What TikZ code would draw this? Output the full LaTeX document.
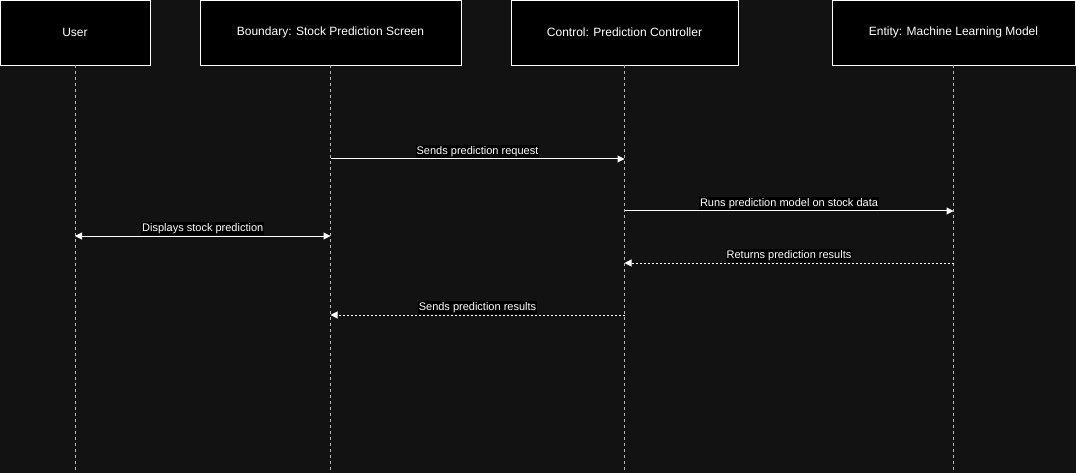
\documentclass[tikz,border=0pt]{standalone}
\usepackage{fontspec}
\setmainfont{Liberation Sans}
\usetikzlibrary{arrows.meta}
\definecolor{bg}{HTML}{121212}
\definecolor{lifeline}{HTML}{B8B8B8}
\tikzset{
  actor/.style={draw=white, fill=black, line width=0.9pt, minimum height=65pt, inner sep=0pt, text=white, font=\fontsize{12}{14}\selectfont},
  life/.style={draw=lifeline, dash pattern=on 3pt off 3pt, line width=0.8pt},
  msg/.style={draw=white, line width=1pt, -{Triangle[length=7pt,width=7pt]}},
  reply/.style={msg, dash pattern=on 2pt off 2pt},
  lbl/.style={fill=black, text=white, inner xsep=1pt, inner ysep=1pt, font=\fontsize{11}{12}\selectfont}
}
\begin{document}
\begin{tikzpicture}[x=1pt,y=-1pt]
\fill[bg] (0,0) rectangle (1076,473);
\useasboundingbox (0,0) rectangle (1076,473);
\node[actor, minimum width=150pt] (user) at (75,32.5) {User};
\node[actor, minimum width=261pt] (bnd) at (330.5,32.5) {Boundary: Stock Prediction Screen};
\node[actor, minimum width=227pt] (ctl) at (624.5,32.5) {Control: Prediction Controller};
\node[actor, minimum width=243pt] (ent) at (953.5,32.5) {Entity: Machine Learning Model};
\coordinate (ue) at (75,473);
\coordinate (be) at (330.5,473);
\coordinate (ce) at (624.5,473);
\coordinate (ee) at (953.5,473);
\draw[life] (user.south) -- (ue);
\draw[life] (bnd.south) -- (be);
\draw[life] (ctl.south) -- (ce);
\draw[life] (ent.south) -- (ee);
% messages
\coordinate (b1) at (330.5,159); \coordinate (c1) at (624.5,159);
\coordinate (c2) at (624.5,211); \coordinate (e2) at (953.5,211);
\coordinate (u3) at (75,236);    \coordinate (b3) at (330.5,236);
\coordinate (e4) at (953.5,263); \coordinate (c4) at (624.5,263);
\coordinate (c5) at (624.5,315); \coordinate (b5) at (330.5,315);
\draw[msg] (b1) -- (c1) node[lbl, midway, yshift=7.5pt] (l1) {Sends prediction request};
\draw[msg] (c2) -- (e2) node[lbl, midway, yshift=7.5pt] (l2) {Runs prediction model on stock data};
\draw[msg, {Triangle[length=7pt,width=7pt]}-{Triangle[length=7pt,width=7pt]}] (u3) -- (b3) node[lbl, midway, yshift=7.5pt] (l3) {Displays stock prediction};
\draw[reply] (e4) -- (c4) node[lbl, midway, yshift=7.5pt] (l4) {Returns prediction results};
\draw[reply] (c5) -- (b5) node[lbl, midway, yshift=7.5pt] (l5) {Sends prediction results};
\end{tikzpicture}
\end{document}
